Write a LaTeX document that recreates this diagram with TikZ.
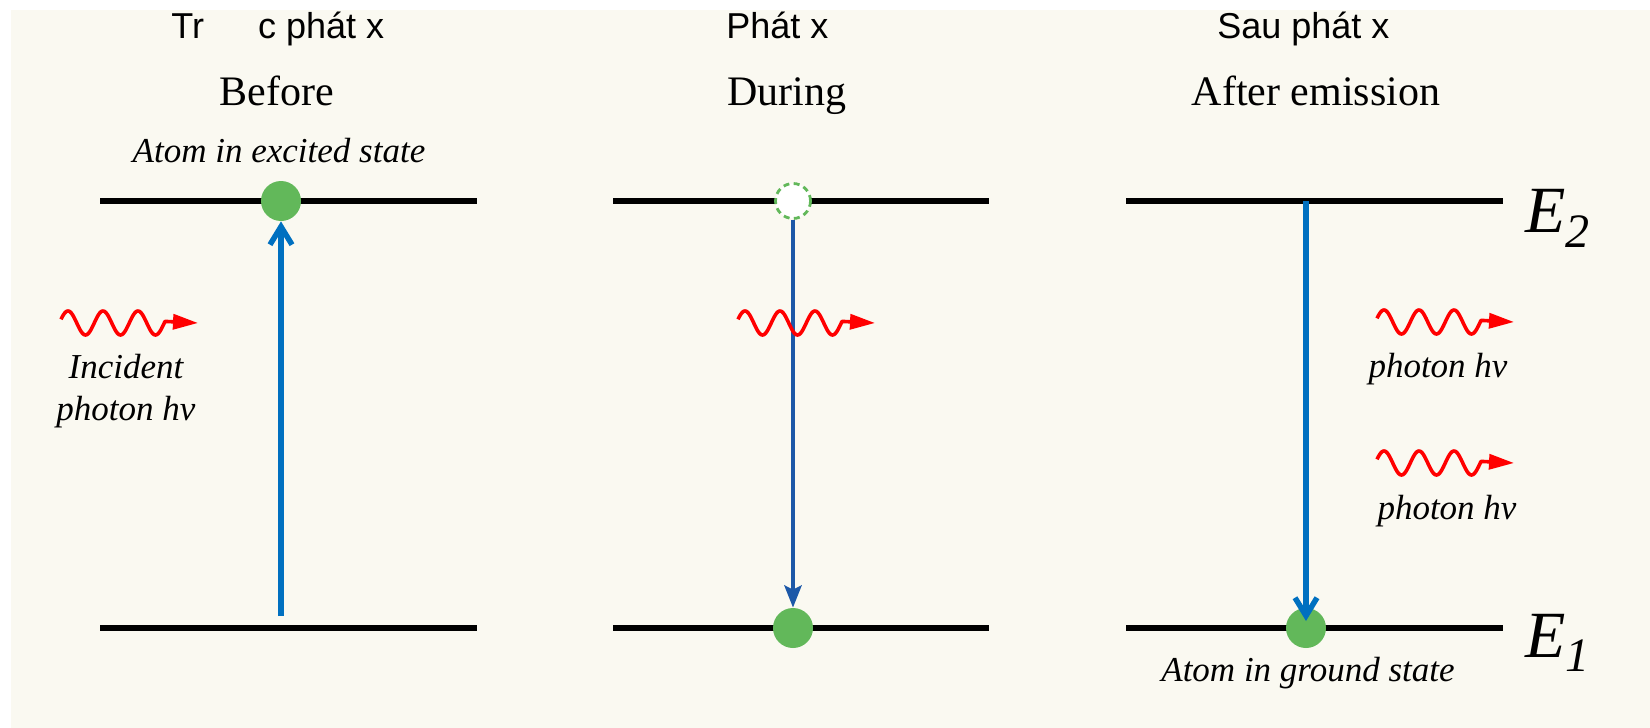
\documentclass[tikz,border=0pt]{standalone}
\usepackage{fontspec}
\usepackage{graphicx}
\setmainfont{Liberation Serif}
\newfontfamily\sansf{Liberation Sans}
\usetikzlibrary{arrows.meta}
\definecolor{bgcol}{RGB}{250,249,241}
\definecolor{atomgreen}{RGB}{98,184,90}
\definecolor{arrblue}{RGB}{0,112,192}
\definecolor{arrdark}{RGB}{28,88,168}
\definecolor{photred}{RGB}{255,0,0}
\begin{document}
\begin{tikzpicture}[x=0.5pt,y=-0.5pt,
  level/.style={line width=3pt, black},
  atom/.style={circle, fill=atomgreen, minimum size=20pt, inner sep=0pt},
  ghost/.style={circle, draw=atomgreen, dash pattern=on 3pt off 2.2pt, line width=1.4pt, fill=white, minimum size=17.5pt, inner sep=0pt},
  sanslbl/.style={font=\sansf\fontsize{18}{21}\selectfont, inner sep=0pt},
  headlbl/.style={font=\fontsize{21}{24}\selectfont, inner sep=0pt},
  itlbl/.style={font=\itshape\fontsize{17.5}{21}\selectfont, inner sep=0pt},
  elbl/.style={font=\itshape\fontsize{33}{36}\selectfont, inner sep=0pt},
  barbarrow/.style={arrblue, line width=2.75pt, -{Straight Barb[length=9pt,width=11pt]}},
  midarrow/.style={arrdark, line width=2.25pt, -{Stealth[length=11pt,width=8.5pt,inset=2pt]}},
  photon/.pic={
    \draw[line width=1.8pt, photred, line join=round, -{Triangle[length=12.5pt,width=7.5pt]}]
      plot[domain=0:104, samples=90, smooth] (\x, {-12*sin(10.2857*(\x+1.75))}) -- (137,0);
  }
]
\useasboundingbox (0,0) rectangle (1650,728);
\fill[bgcol] (11,10) rectangle (1650,728);

% top labels
\node[sanslbl, anchor=base west] (t1) at (171,39) {Tr\hspace{27pt}c phát x};
\node[sanslbl, anchor=base west] (t2) at (726,39) {Phát x};
\node[sanslbl, anchor=base west] (t3) at (1217,39) {Sau phát x};

\node[headlbl, anchor=base] (h1) at (277,105) {Before};
\node[headlbl, anchor=base] (h2) at (787,105) {During};
\node[headlbl, anchor=base] (h3) at (1316,105) {After emission};

% energy levels
\draw[level] (100,201) -- (477,201);
\draw[level] (613,201) -- (989,201);
\draw[level] (1126,201) -- (1503,201);
\draw[level] (100,628) -- (477,628);
\draw[level] (613,628) -- (989,628);
\draw[level] (1126,628) -- (1503,628);

\node[elbl, anchor=base west] (e2) at (1525,232) {E\raisebox{-7.5pt}{\fontsize{24}{24}\selectfont 2}};
\node[elbl, anchor=base west] (e1) at (1525,657) {E\raisebox{-7pt}{\fontsize{24}{24}\selectfont 1}};

% atoms
\node[atom] (c1) at (281,201) {};
\node[ghost] (d) at (793,201) {};
\node[atom] (g1) at (793,628) {};
\node[atom] (g2) at (1306,628) {};

\node[itlbl, anchor=base] (ex) at (279,162) {Atom in excited state};
\node[itlbl, anchor=base] (gs) at (1308,681) {Atom in ground state};

% transitions
\coordinate (lb) at (281,616);
\draw[barbarrow] (lb) -- (c1.south);
\draw[midarrow] (d.south) -- (g1.north);
\coordinate (rt) at (1306,201);
\coordinate (rb) at (1306,621);
\draw[barbarrow] (rt) -- (rb);

% photons
\pic at (61,323) {photon};
\pic at (738,323) {photon};
\pic at (1377,322) {photon};
\pic at (1377,463) {photon};

\node[itlbl, anchor=base, align=center] (inc) at (126,420) {Incident\\photon hν};
\node[itlbl, anchor=base] (p1) at (1438,377) {photon hν};
\node[itlbl, anchor=base] (p2) at (1447,519) {photon hν};
\end{tikzpicture}
\end{document}
